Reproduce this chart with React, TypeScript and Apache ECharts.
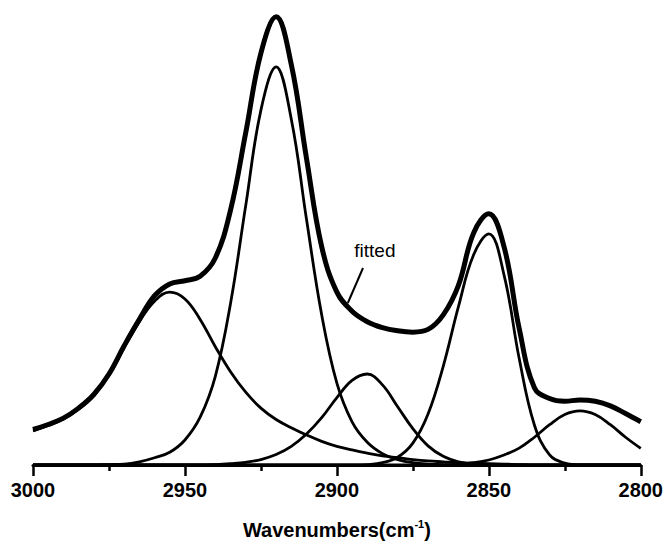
import React, { useEffect, useRef } from "react";
import * as echarts from "echarts";

// Wavenumber grid (cm^-1), read left to right as in the figure (axis is reversed)
const wavenumbers = [
  3000, 2995, 2990, 2985, 2980, 2975, 2970, 2965, 2960, 2955, 2950, 2945, 2940, 2935,
  2930, 2925, 2920, 2915, 2910, 2905, 2900, 2895, 2890, 2885, 2880, 2875, 2870, 2865,
  2860, 2855, 2850, 2845, 2840, 2835, 2830, 2825, 2820, 2815, 2810, 2805, 2800,
];

// Fitted (overall) spectrum
const fitted = [
  0.078, 0.089, 0.103, 0.125, 0.155, 0.2, 0.262, 0.32, 0.372, 0.398, 0.405, 0.415, 0.455, 0.56,
  0.73, 0.905, 0.985, 0.88, 0.674, 0.48, 0.38, 0.338, 0.315, 0.302, 0.295, 0.292, 0.298, 0.33,
  0.395, 0.51, 0.552, 0.48, 0.3, 0.17, 0.146, 0.14, 0.143, 0.14, 0.13, 0.113, 0.095,
];

// Component bands
const band2955 = [
  0.075, 0.087, 0.101, 0.123, 0.152, 0.197, 0.258, 0.315, 0.36, 0.38, 0.365, 0.32, 0.26, 0.205,
  0.16, 0.125, 0.1, 0.082, 0.066, 0.052, 0.041, 0.033, 0.026, 0.02, 0.016, 0.012, 0.009, 0.007,
  0.005, 0.004, 0.003, 0.002, 0.001, 0, 0, 0, 0, 0, 0, 0, 0,
];
const band2920 = [
  0, 0, 0, 0, 0, 0.001, 0.002, 0.007, 0.016, 0.028, 0.055, 0.105, 0.195, 0.355,
  0.57, 0.78, 0.875, 0.76, 0.54, 0.33, 0.18, 0.095, 0.05, 0.025, 0.012, 0.005, 0.002, 0.001,
  0, 0, 0, 0, 0, 0, 0, 0, 0, 0, 0, 0, 0,
];
const band2890 = [
  0, 0, 0, 0, 0, 0, 0, 0, 0, 0, 0, 0, 0.001, 0.003,
  0.006, 0.012, 0.023, 0.041, 0.068, 0.104, 0.148, 0.186, 0.2, 0.176, 0.128, 0.08, 0.042, 0.019,
  0.007, 0.002, 0.001, 0, 0, 0, 0, 0, 0, 0, 0, 0, 0,
];
const band2850 = [
  0, 0, 0, 0, 0, 0, 0, 0, 0, 0, 0, 0, 0, 0,
  0, 0, 0, 0, 0, 0, 0, 0, 0.001, 0.005, 0.017, 0.048, 0.112, 0.217,
  0.348, 0.462, 0.508, 0.418, 0.234, 0.088, 0.022, 0.004, 0, 0, 0, 0, 0,
];
const band2820 = [
  0, 0, 0, 0, 0, 0, 0, 0, 0, 0, 0, 0, 0, 0,
  0, 0, 0, 0, 0, 0, 0, 0, 0, 0, 0, 0, 0, 0,
  0.002, 0.005, 0.011, 0.022, 0.037, 0.061, 0.0885, 0.111, 0.119, 0.111, 0.0885, 0.061, 0.0365,
];

const xTicks = { min: 2800, max: 3000, interval: 50 };
const fittedLabel = "fitted";
const fittedLabelAt = [2887.5, 0.4725];
const pointerFrom = [2891.4, 0.433];
const pointerTo = [2896.4, 0.356];

const FONT = "'Liberation Sans', Arial, Helvetica, sans-serif";

function toPairs(values: number[]) {
  return wavenumbers.map((w, i) => [w, values[i]]);
}

export default function App() {
  const ref = useRef<HTMLDivElement>(null);

  useEffect(() => {
    if (!ref.current) return;
    const chart = echarts.init(ref.current, undefined, { renderer: "svg" });

    const bandSeries = [band2955, band2920, band2890, band2850, band2820].map((b, i) => ({
      name: "band" + i,
      type: "line",
      data: toPairs(b),
      smooth: 0.4,
      showSymbol: false,
      symbol: "none",
      lineStyle: { color: "#000", width: 2.8 },
      z: 2,
    }));

    chart.setOption({
      animation: false,
      backgroundColor: "#fff",
      grid: { left: 33, right: 25, top: 10, bottom: 85, containLabel: false },
      xAxis: {
        type: "value",
        min: xTicks.min,
        max: xTicks.max,
        interval: xTicks.interval,
        inverse: true,
        axisLine: { show: true, lineStyle: { color: "#000", width: 3 } },
        axisTick: { show: true, length: 11, lineStyle: { color: "#000", width: 2.5 } },
        minorTick: { show: true, splitNumber: 2, length: 6, lineStyle: { color: "#000", width: 2.5 } },
        splitLine: { show: false },
        axisLabel: {
          color: "#000",
          fontSize: 20,
          fontWeight: "bold",
          fontFamily: FONT,
          margin: 15,
          formatter: (v: number) => String(v),
        },
        name: "{t|Wavenumbers(cm}{s|-1}{t|)}",
        nameLocation: "middle",
        nameGap: 53,
        nameTextStyle: {
          rich: {
            t: { fontSize: 20, fontWeight: "bold", fontFamily: FONT, color: "#000", lineHeight: 24 },
            s: { fontSize: 11, fontWeight: "bold", fontFamily: FONT, color: "#000", verticalAlign: "top", lineHeight: 12 },
          },
        },
      },
      yAxis: {
        type: "value",
        min: 0,
        max: 1,
        show: false,
      },
      series: [
        ...bandSeries,
        {
          name: "fitted",
          type: "line",
          data: toPairs(fitted),
          smooth: 0.4,
          showSymbol: false,
          symbol: "none",
          lineStyle: { color: "#000", width: 5 },
          z: 3,
          markLine: {
            silent: true,
            symbol: ["none", "none"],
            label: { show: false },
            lineStyle: { color: "#000", width: 2, type: "solid" },
            data: [[{ coord: pointerFrom }, { coord: pointerTo }]],
          },
          markPoint: {
            silent: true,
            symbol: "circle",
            symbolSize: 0,
            data: [
              {
                coord: fittedLabelAt,
                label: {
                  show: true,
                  position: "inside",
                  formatter: fittedLabel,
                  color: "#000",
                  fontSize: 19,
                  fontFamily: FONT,
                },
              },
            ],
          },
        },
      ],
    });

    return () => chart.dispose();
  }, []);

  return (
    <div
      ref={ref}
      style={{ position: "fixed", left: 0, top: 0, width: 666, height: 550, background: "#fff" }}
    />
  );
}
